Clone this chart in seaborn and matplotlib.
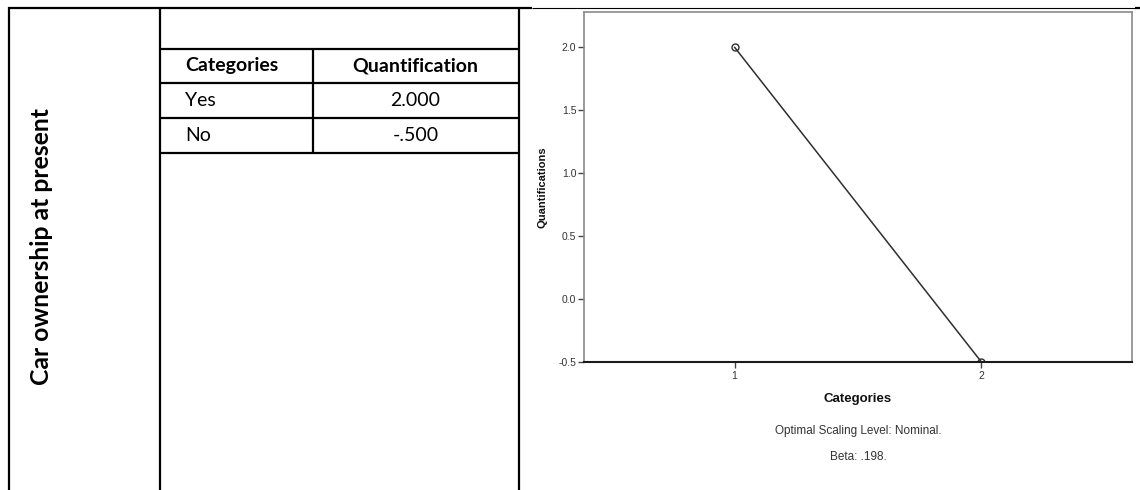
import matplotlib
matplotlib.use("Agg")
import matplotlib.pyplot as plt
import seaborn as sns
import pandas as pd

# Category codes, their labels and the optimal-scaling quantifications
category_codes = [1, 2]
category_names = ["Yes", "No"]
quantifications = [2.000, -0.500]
variable_name = "Car ownership at present"
table_headers = ["Categories", "Quantification"]
y_ticks = [-0.5, 0.0, 0.5, 1.0, 1.5, 2.0]
scaling_level = "Nominal"
beta = 0.198

W, H = 1140, 490


def spss_num(v, nd):
    """Format a number the SPSS way (no leading zero before the decimal point)."""
    s = f"{v:.{nd}f}"
    if s.startswith("0."):
        s = s[1:]
    elif s.startswith("-0."):
        s = "-" + s[2:]
    return s


sns.set_style("white")
plt.rcParams["font.family"] = ["Liberation Sans", "DejaVu Sans"]

fig = plt.figure(figsize=(W / 100, H / 100), dpi=100)
fig.patch.set_facecolor("white")

# ---- page layer in pixel units: outer table grid and the quantification table
bg = fig.add_axes([0, 0, 1, 1], zorder=0)
bg.set_xlim(0, W)
bg.set_ylim(H, 0)
bg.axis("off")

thick = 1.6
thin = 0.8
grid = dict(color="black", solid_capstyle="butt")

# outer frame row
bg.plot([7.5, 532], [8.5, 8.5], lw=thick, **grid)
bg.plot([532, 1136], [8.5, 8.5], lw=thin, **grid)
bg.plot([1135, W], [8.5, 8.5], lw=thick, **grid)
for xv in (8.5, 160, 519):
    bg.plot([xv, xv], [7.5, H], lw=thick, **grid)

# inner table
t_left, t_mid, t_right = 160, 313, 518
row_lines = [49, 83, 118, 153]
for yv in row_lines:
    bg.plot([t_left, t_right], [yv, yv], lw=thick, **grid)
bg.plot([t_mid, t_mid], [row_lines[0], row_lines[-1]], lw=thick, **grid)

table_font = ["Lato", "DejaVu Sans"]
row_centers = [(row_lines[i] + row_lines[i + 1]) / 2 for i in range(3)]
bg.text(185, row_centers[0], table_headers[0], ha="left", va="center",
        fontsize=14, fontweight="bold", family=table_font, color="black")
bg.text((t_mid + t_right) / 2, row_centers[0], table_headers[1], ha="center",
        va="center", fontsize=14, fontweight="bold", family=table_font,
        color="black")
for yc, name, val in zip(row_centers[1:], category_names, quantifications):
    bg.text(185, yc, name, ha="left", va="center", fontsize=14,
            family=table_font, color="black")
    bg.text((t_mid + t_right) / 2, yc, spss_num(val, 3), ha="center",
            va="center", fontsize=14, family=table_font, color="black")

bg.text(42, 246, variable_name, rotation=90, ha="center", va="center",
        fontsize=17.8, fontweight="bold", family=table_font, color="black")

# ---- transformation plot
ax_l, ax_r, ax_t, ax_b = 584, 1132, 12, 362
ax = fig.add_axes([ax_l / W, (H - ax_b) / H, (ax_r - ax_l) / W, (ax_b - ax_t) / H],
                  zorder=2)
df = pd.DataFrame({"Categories": category_codes, "Quantifications": quantifications})
ink = "#2e2e2e"
sns.lineplot(data=df, x="Categories", y="Quantifications", ax=ax, color=ink,
             linewidth=1.1, marker="o", markersize=5, markerfacecolor="none",
             markeredgecolor=ink, markeredgewidth=1.0)

ax.set_xlim(0.39, 2.61)
ax.set_ylim(-0.5, 2.28)
ax.set_xticks(category_codes)
ax.set_xticklabels([str(c) for c in category_codes])
ax.set_yticks(y_ticks)
ax.set_yticklabels([f"{t:.1f}" for t in y_ticks])
ax.tick_params(axis="both", direction="out", length=4.5, width=1.0,
               color="#444444", labelsize=7.5, labelcolor="#333333", pad=1.0,
               bottom=True, left=True, top=False, right=False)
ax.tick_params(axis="x", pad=2)
ax.set_xlabel("")
ax.set_ylabel("")
for side in ("top", "right", "left"):
    ax.spines[side].set_color("#8a8a8a")
    ax.spines[side].set_linewidth(1.2)
ax.spines["bottom"].set_color("#1a1a1a")
ax.spines["bottom"].set_linewidth(1.5)
ax.grid(False)

cx = (ax_l + ax_r) / 2
bg.text(543, (ax_t + ax_b) / 2, "Quantifications", rotation=90, ha="center",
        va="center", fontsize=8, fontweight="bold", color="#111111")
bg.text(cx, 399, "Categories", ha="center", va="center", fontsize=9.5,
        fontweight="bold", color="#111111")
bg.text(cx, 431, f"Optimal Scaling Level: {scaling_level}.", ha="center",
        va="center", fontsize=8.5, color="#333333")
bg.text(cx, 457, f"Beta: {spss_num(beta, 3)}.", ha="center", va="center",
        fontsize=8.5, color="#333333")

fig.savefig("out.png", dpi=100, facecolor="white")
